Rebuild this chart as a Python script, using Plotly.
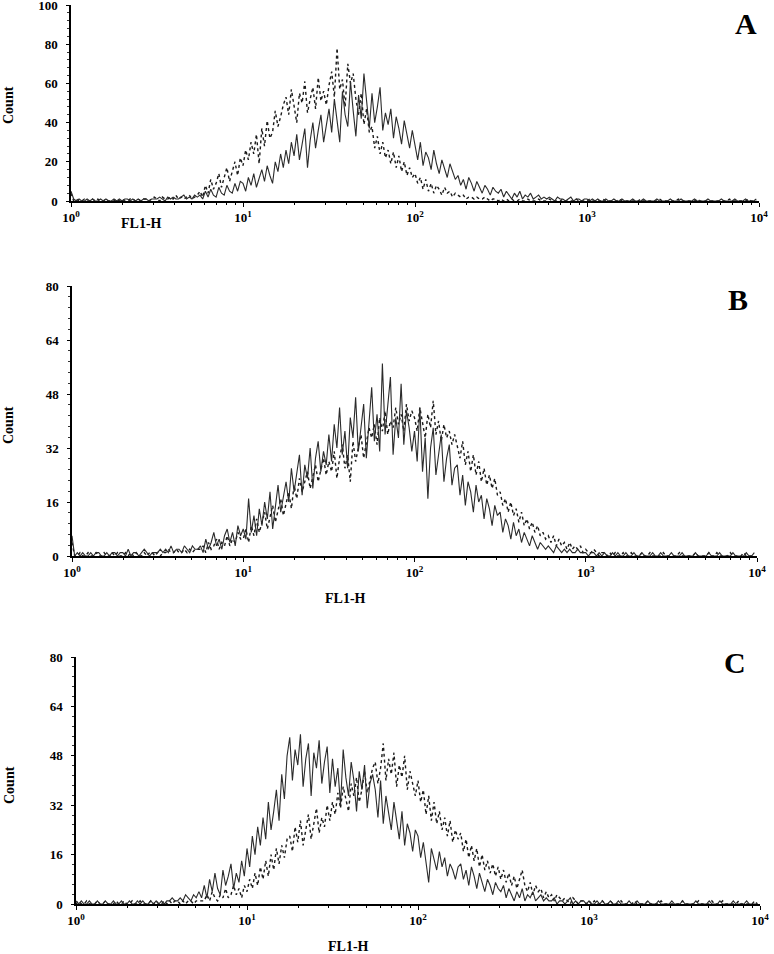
import plotly.graph_objects as go

# ---------------- data (counts per channel, 64 channels per decade) ----------------
channels_per_decade = 64
channels = list(range(256))

x_tick_values = [1, 10, 100, 1000, 10000]
x_tick_labels = ["<b>10<sup>0</sup></b>", "<b>10<sup>1</sup></b>", "<b>10<sup>2</sup></b>",
                 "<b>10<sup>3</sup></b>", "<b>10<sup>4</sup></b>"]
panel_letters = ["A", "B", "C"]
x_title = "FL1-H"
y_title = "Count"

# Panel A
a_solid = [
    5, 1, 0, 1, 0, 0, 1, 0, 1, 0, 0, 1, 0, 1, 0, 0,
    1, 0, 1, 0, 1, 1, 0, 1, 0, 1, 0, 1, 1, 0, 1, 1,
    1, 2, 1, 0, 2, 1, 2, 1, 1, 2, 3, 1, 2, 1, 3, 2,
    3, 1, 5, 2, 6, 3, 2, 7, 4, 3, 8, 5, 4, 9, 5, 10,
    9, 5, 12, 8, 14, 7, 11, 16, 10, 18, 13, 9, 20, 15, 24, 17,
    26, 19, 30, 23, 34, 21, 29, 37, 17, 31, 40, 27, 36, 44, 30, 38,
    47, 35, 52, 41, 30, 56, 44, 38, 61, 46, 33, 54, 42, 65, 49, 37,
    55, 40, 48, 58, 36, 45, 39, 47, 32, 43, 37, 29, 41, 33, 27, 36,
    28, 21, 30, 18, 25, 22, 16, 26, 19, 14, 21, 17, 12, 19, 15, 11,
    13, 8, 11, 6, 12, 9, 5, 10, 7, 4, 8, 6, 3, 7, 5, 4,
    6, 2, 5, 3, 1, 4, 2, 5, 1, 3, 2, 4, 1, 2, 3, 1,
    2, 1, 2, 1, 0, 2, 1, 1, 0, 1, 2, 0, 1, 1, 0, 1,
    1, 0, 1, 0, 1, 0, 0, 1, 0, 0, 1, 0, 0, 1, 0, 0,
    0, 1, 0, 0, 0, 1, 0, 0, 0, 0, 1, 0, 0, 0, 0, 1,
    0, 0, 0, 1, 0, 0, 0, 0, 1, 0, 0, 0, 0, 1, 0, 0,
    0, 0, 1, 0, 0, 0, 0, 1, 0, 0, 0, 1, 0, 0, 0, 1]
a_dotted = [
    4, 0, 1, 0, 0, 1, 0, 0, 1, 0, 1, 0, 0, 1, 0, 0,
    0, 1, 0, 1, 0, 0, 1, 1, 0, 1, 0, 1, 1, 0, 1, 2,
    1, 0, 2, 1, 1, 2, 1, 3, 1, 2, 1, 2, 3, 1, 2, 3,
    5, 2, 8, 4, 11, 6, 9, 14, 7, 12, 17, 10, 15, 20, 13, 22,
    18, 26, 21, 30, 24, 34, 19, 37, 28, 41, 32, 35, 46, 38, 43, 49,
    53, 44, 57, 48, 40, 55, 50, 61, 45, 52, 58, 47, 63, 51, 56, 49,
    59, 66, 53, 78, 57, 62, 48, 70, 60, 65, 52, 44, 55, 39, 47, 35,
    38, 27, 33, 24, 30, 22, 26, 19, 25, 17, 23, 15, 20, 13, 17, 12,
    14, 9, 12, 6, 11, 5, 9, 4, 8, 6, 3, 7, 4, 5, 2, 4,
    3, 2, 3, 1, 2, 2, 1, 2, 1, 1, 2, 1, 0, 1, 1, 0,
    1, 0, 1, 0, 1, 0, 0, 1, 0, 0, 1, 0, 0, 0, 1, 0,
    0, 0, 1, 0, 0, 0, 0, 1, 0, 0, 0, 0, 1, 0, 0, 0,
    0, 1, 0, 0, 0, 0, 1, 0, 0, 0, 0, 0, 1, 0, 0, 0,
    0, 0, 0, 0, 1, 0, 0, 0, 0, 0, 0, 1, 0, 0, 0, 0,
    0, 0, 1, 0, 0, 0, 0, 0, 0, 1, 0, 0, 0, 0, 0, 0,
    0, 0, 0, 0, 0, 1, 0, 0, 0, 0, 0, 0, 1, 0, 0, 0]

# Panel B
b_solid = [
    6, 0, 1, 0, 1, 0, 0, 1, 0, 1, 1, 0, 0, 1, 0, 1,
    1, 0, 1, 1, 0, 2, 0, 1, 1, 0, 1, 2, 1, 0, 1, 1,
    1, 2, 1, 2, 1, 3, 1, 2, 2, 1, 3, 2, 1, 3, 2, 2,
    3, 1, 5, 2, 4, 7, 3, 5, 2, 6, 8, 4, 7, 3, 9, 6,
    8, 5, 17, 7, 12, 6, 14, 9, 16, 11, 19, 8, 15, 21, 13, 18,
    22, 16, 26, 19, 24, 30, 18, 27, 23, 32, 20, 29, 34, 25, 31, 27,
    36, 28, 39, 32, 44, 30, 37, 26, 41, 35, 47, 31, 38, 45, 29, 40,
    50, 34, 42, 31, 57, 36, 44, 53, 30, 41, 35, 51, 33, 43, 38, 31,
    37, 28, 44, 25, 35, 17, 32, 38, 24, 30, 36, 22, 29, 33, 21, 26,
    27, 18, 24, 15, 22, 19, 13, 21, 16, 18, 11, 17, 14, 9, 15, 12,
    13, 7, 11, 9, 5, 10, 6, 8, 4, 7, 5, 3, 6, 4, 2, 4,
    3, 2, 3, 2, 1, 3, 2, 1, 2, 1, 2, 1, 1, 2, 1, 1,
    1, 0, 1, 1, 0, 1, 0, 1, 0, 0, 1, 0, 1, 0, 0, 1,
    0, 0, 1, 0, 0, 1, 0, 0, 0, 1, 0, 0, 1, 0, 0, 0,
    1, 0, 0, 0, 1, 0, 0, 0, 0, 1, 0, 0, 0, 0, 1, 0,
    0, 0, 1, 0, 0, 0, 0, 1, 0, 0, 0, 0, 1, 0, 0, 1]
b_dotted = [
    4, 0, 0, 1, 0, 0, 1, 0, 0, 1, 0, 0, 1, 0, 0, 1,
    0, 1, 0, 0, 1, 0, 1, 0, 1, 0, 0, 1, 0, 1, 1, 0,
    1, 0, 1, 1, 2, 1, 1, 2, 1, 1, 2, 1, 2, 1, 2, 2,
    2, 3, 1, 4, 2, 3, 5, 2, 4, 3, 6, 3, 5, 4, 7, 5,
    5, 8, 4, 9, 6, 11, 7, 10, 13, 8, 12, 15, 10, 14, 17, 12,
    16, 19, 14, 21, 17, 23, 19, 22, 25, 20, 24, 27, 22, 26, 29, 24,
    28, 25, 31, 23, 29, 33, 26, 30, 22, 34, 28, 32, 36, 29, 33, 38,
    35, 39, 33, 41, 37, 43, 36, 40, 38, 44, 39, 42, 37, 45, 40, 43,
    41, 37, 44, 39, 35, 42, 38, 46, 36, 40, 34, 39, 35, 37, 33, 36,
    32, 29, 34, 27, 31, 25, 30, 24, 28, 22, 26, 21, 24, 20, 23, 18,
    19, 15, 17, 13, 16, 12, 14, 10, 13, 9, 11, 8, 10, 7, 9, 6,
    7, 5, 6, 4, 6, 3, 5, 3, 4, 2, 4, 2, 3, 2, 3, 1,
    2, 1, 1, 2, 1, 0, 1, 1, 0, 1, 0, 1, 0, 0, 1, 0,
    0, 1, 0, 0, 0, 1, 0, 0, 1, 0, 0, 0, 0, 1, 0, 0,
    0, 0, 0, 1, 0, 0, 0, 0, 0, 1, 0, 0, 0, 0, 1, 0,
    0, 1, 0, 0, 0, 0, 1, 0, 0, 0, 0, 1, 0, 0, 0, 0]

# Panel C
c_solid = [
    1, 0, 1, 0, 0, 1, 0, 0, 1, 0, 0, 1, 0, 0, 1, 0,
    0, 1, 0, 0, 1, 0, 0, 1, 0, 1, 0, 0, 1, 0, 1, 0,
    1, 0, 1, 1, 2, 1, 1, 2, 1, 3, 2, 1, 3, 2, 4, 2,
    6, 2, 8, 4, 10, 5, 3, 11, 6, 9, 13, 5, 10, 7, 14, 9,
    18, 12, 22, 16, 25, 19, 28, 21, 33, 24, 30, 37, 27, 42, 34, 48,
    54, 40, 50, 45, 55, 38, 47, 52, 35, 49, 44, 53, 39, 46, 51, 36,
    47, 38, 44, 32, 50, 41, 35, 46, 40, 30, 43, 37, 45, 31, 39, 42,
    37, 28, 40, 26, 35, 30, 24, 33, 27, 21, 30, 19, 26, 23, 17, 24,
    22, 15, 20, 13, 7, 18, 14, 11, 17, 12, 15, 9, 13, 11, 8, 12,
    13, 8, 11, 6, 12, 9, 5, 10, 7, 4, 8, 6, 3, 7, 5, 4,
    6, 2, 5, 3, 1, 4, 2, 5, 1, 3, 2, 4, 1, 2, 3, 1,
    2, 1, 1, 2, 0, 1, 1, 0, 1, 2, 0, 1, 0, 1, 1, 0,
    1, 0, 0, 1, 0, 1, 0, 0, 1, 0, 0, 1, 0, 0, 0, 1,
    0, 0, 1, 0, 0, 0, 1, 0, 0, 0, 1, 0, 0, 0, 0, 1,
    0, 0, 0, 1, 0, 0, 0, 0, 1, 0, 0, 0, 0, 1, 0, 0,
    0, 1, 0, 0, 0, 0, 1, 0, 0, 0, 0, 1, 0, 0, 0, 0]
c_dotted = [
    0, 1, 0, 0, 1, 0, 0, 0, 1, 0, 0, 1, 0, 0, 0, 1,
    0, 0, 1, 0, 0, 1, 0, 0, 1, 0, 0, 0, 1, 0, 1, 0,
    0, 1, 0, 1, 0, 1, 1, 0, 1, 0, 1, 1, 0, 1, 1, 1,
    1, 3, 1, 4, 2, 1, 3, 2, 5, 2, 3, 6, 3, 5, 2, 6,
    4, 8, 5, 10, 6, 12, 8, 14, 9, 16, 11, 18, 13, 19, 15, 21,
    22, 17, 25, 20, 27, 19, 24, 29, 21, 26, 31, 23, 28, 25, 32, 27,
    33, 29, 36, 31, 38, 34, 30, 39, 35, 41, 33, 37, 43, 36, 40, 44,
    46, 39, 44, 52, 40, 47, 42, 49, 38, 45, 41, 48, 37, 43, 39, 35,
    40, 33, 37, 29, 35, 27, 33, 26, 30, 24, 28, 22, 27, 20, 24, 21,
    23, 17, 21, 15, 19, 14, 18, 12, 16, 11, 14, 10, 13, 9, 12, 8,
    11, 7, 10, 6, 9, 5, 8, 11, 6, 4, 7, 3, 6, 4, 5, 2,
    4, 2, 3, 1, 3, 2, 1, 2, 1, 0, 2, 1, 0, 1, 1, 0,
    1, 0, 1, 0, 0, 1, 0, 0, 1, 0, 0, 0, 1, 0, 0, 0,
    0, 1, 0, 0, 0, 0, 1, 0, 0, 0, 0, 1, 0, 0, 0, 0,
    0, 0, 0, 1, 0, 0, 0, 0, 0, 1, 0, 0, 0, 0, 1, 0,
    0, 0, 1, 0, 0, 0, 0, 0, 1, 0, 0, 0, 0, 0, 1, 0]

y_max = [100, 80, 80]
y_major = [20, 16, 16]
y_minor = [4, 3.2, 3.2]

# ---------------- layout geometry (pixels) ----------------
W, H = 774, 954
panels_px = [  # (x_left, x_right, y_top, y_bottom)
    (71, 759, 5, 201),
    (72, 757, 286, 556),
    (76, 760, 657, 904),
]
xtitle_px = [(141, 224), (345, 598), (348, 946)]
ytitle_px = [(9, 105), (9, 425), (9, 785)]
letter_px = [(746, 24), (738, 300), (735, 662)]

x_values = [10 ** (c / channels_per_decade) for c in channels]
minor_vals = [m * 10 ** d for d in range(4) for m in range(2, 10)]

SERIF = "Liberation Serif, Times New Roman, serif"

fig = go.Figure()
series = [(a_solid, a_dotted), (b_solid, b_dotted), (c_solid, c_dotted)]
for i, (solid, dotted) in enumerate(series):
    sfx = "" if i == 0 else str(i + 1)
    fig.add_trace(go.Scatter(x=x_values, y=dotted, mode="lines",
                             line=dict(color="#1a1a1a", width=1.4, dash="dot"),
                             xaxis="x" + sfx, yaxis="y" + sfx, hoverinfo="skip"))
    fig.add_trace(go.Scatter(x=x_values, y=solid, mode="lines",
                             line=dict(color="#2b2b2b", width=1.1),
                             xaxis="x" + sfx, yaxis="y" + sfx, hoverinfo="skip"))

layout = dict(width=W, height=H,
              margin=dict(l=0, r=0, t=0, b=0, pad=0, autoexpand=False),
              plot_bgcolor="white", paper_bgcolor="white", showlegend=False)
annotations = []
for i, (xl, xr, yt, yb) in enumerate(panels_px):
    sfx = "" if i == 0 else str(i + 1)
    layout["xaxis" + sfx] = dict(
        type="log", range=[0, 4], domain=[xl / W, xr / W], anchor="y" + sfx,
        automargin=False, ticklabeloverflow="allow",
        showline=True, linecolor="black", linewidth=1.5, mirror=False,
        ticks="outside", ticklen=4, tickwidth=1.2, tickcolor="black",
        tickmode="array", tickvals=x_tick_values, ticktext=x_tick_labels,
        tickfont=dict(family=SERIF, size=13, color="black"),
        showgrid=False, zeroline=False, fixedrange=True,
        minor=dict(ticks="outside", ticklen=2, tickwidth=1, tickcolor="black",
                   tickvals=minor_vals, showgrid=False))
    layout["yaxis" + sfx] = dict(
        range=[0, y_max[i]], domain=[1 - yb / H, 1 - yt / H], anchor="x" + sfx,
        automargin=False, ticklabeloverflow="allow",
        showline=True, linecolor="black", linewidth=1.5,
        ticks="outside", ticklen=3, tickwidth=1.2, tickcolor="black",
        tick0=0, dtick=y_major[i], ticklabelstandoff=6,
        tickfont=dict(family=SERIF, size=13, color="black", weight="bold"),
        showgrid=False, zeroline=False, fixedrange=True,
        minor=dict(ticks="outside", ticklen=2, tickwidth=1, tickcolor="#333",
                   tick0=0, dtick=y_minor[i], showgrid=False))
    tx, ty = xtitle_px[i]
    annotations.append(dict(text="<b>" + x_title + "</b>", x=tx / W, y=1 - ty / H,
                            xref="paper", yref="paper", showarrow=False,
                            xanchor="center", yanchor="middle",
                            font=dict(family=SERIF, size=14, color="black")))
    cx, cy = ytitle_px[i]
    annotations.append(dict(text="<b>" + y_title + "</b>", x=cx / W, y=1 - cy / H,
                            textangle=-90,
                            xref="paper", yref="paper", showarrow=False,
                            xanchor="center", yanchor="middle",
                            font=dict(family=SERIF, size=14, color="black")))
    lx, ly = letter_px[i]
    annotations.append(dict(text="<b>" + panel_letters[i] + "</b>", x=lx / W, y=1 - ly / H,
                            xref="paper", yref="paper", showarrow=False,
                            xanchor="center", yanchor="middle",
                            font=dict(family=SERIF, size=30, color="black")))
layout["annotations"] = annotations
fig.update_layout(**layout)

fig.write_html("out.html", config={"displayModeBar": False},
               post_script="document.body.style.margin='0';document.body.style.overflow='hidden';")
